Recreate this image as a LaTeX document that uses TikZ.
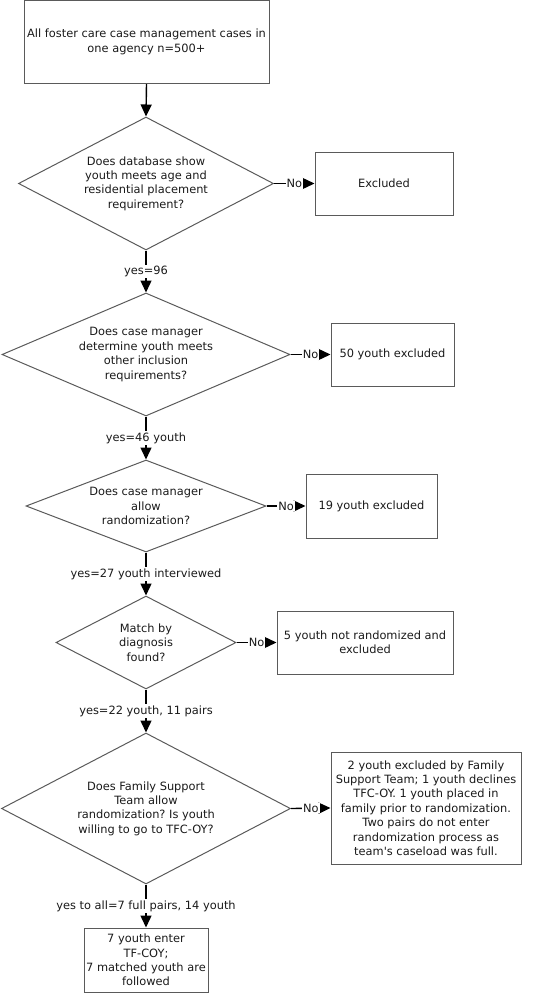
\documentclass[tikz,border=0pt]{standalone}
\usepackage{fontspec}
\setmainfont{DejaVu Sans}
\usetikzlibrary{shapes.geometric,arrows.meta}
\definecolor{edge}{HTML}{5A5A5A}
\definecolor{txt}{HTML}{1A1A1A}
\tikzset{
  every node/.style={font=\fontsize{11.4}{14.4}\selectfont\frenchspacing, text=txt},
  box/.style={draw=edge, line width=1pt, rectangle, inner sep=0pt, align=center},
  dec/.style={draw=edge, line width=1pt, diamond, inner sep=0pt, align=center},
  conn/.style={draw=black, line width=1.4pt, -{Triangle[length=12pt,width=11pt]}},
  lbl/.style={fill=white, inner sep=1pt}
}
\begin{document}
\begin{tikzpicture}[x=1pt,y=-1pt]
\useasboundingbox (0,0) rectangle (548,993);
\node[box, minimum width=245pt, minimum height=83pt] (start) at (146.5,42) {All foster care case management cases in\\one agency n=500+};
\node[dec, minimum width=255pt, minimum height=133pt, aspect=1.92] (d1) at (146,183.5) {Does database show\\youth meets age and\\residential placement\\requirement?};
\node[box, minimum width=138pt, minimum height=63pt] (e1) at (384,183.5) {Excluded};
\node[dec, minimum width=288pt, minimum height=123pt, aspect=2.34] (d2) at (146,354.5) {Does case manager\\determine youth meets\\other inclusion\\requirements?};
\node[box, minimum width=123pt, minimum height=63pt] (e2) at (392.5,354.5) {50 youth excluded};
\node[dec, minimum width=240pt, minimum height=92pt, aspect=2.6] (d3) at (146,506) {Does case manager\\allow\\randomization?};
\node[box, minimum width=131pt, minimum height=64pt] (e3) at (371.5,506) {19 youth excluded};
\node[dec, minimum width=180pt, minimum height=93pt, aspect=1.94] (d4) at (146,642.5) {Match by\\diagnosis\\found?};
\node[box, minimum width=176pt, minimum height=63pt] (e4) at (365,642.5) {5 youth not randomized and\\excluded};
\node[dec, minimum width=289pt, minimum height=151pt, aspect=1.91] (d5) at (146,808.5) {Does Family Support\\Team allow\\randomization? Is youth\\willing to go to TFC-OY?};
\node[box, minimum width=190pt, minimum height=112pt] (e5) at (426,808) {2 youth excluded by Family\\Support Team; 1 youth declines\\TFC-OY. 1 youth placed in\\family prior to randomization.\\Two pairs do not enter\\randomization process as\\team\textquotesingle s caseload was full.};
\node[box, minimum width=124pt, minimum height=64pt] (fin) at (146,960) {7 youth enter\\TF-COY;\\7 matched youth are\\followed};
\draw[conn] (start.south) -- (d1.north);
\draw[conn] (d1.south) -- node[lbl]{yes=96} (d2.north);
\draw[conn] (d2.south) -- node[lbl]{yes=46 youth} (d3.north);
\draw[conn] (d3.south) -- node[lbl]{yes=27 youth interviewed} (d4.north);
\draw[conn] (d4.south) -- node[lbl]{yes=22 youth, 11 pairs} (d5.north);
\draw[conn] (d5.south) -- node[lbl]{yes to all=7 full pairs, 14 youth} (fin.north);
\draw[conn] (d1.east) -- node[lbl]{No} (e1.west);
\draw[conn] (d2.east) -- node[lbl]{No} (e2.west);
\draw[conn] (d3.east) -- node[lbl]{No} (e3.west);
\draw[conn] (d4.east) -- node[lbl]{No} (e4.west);
\draw[conn] (d5.east) -- node[lbl]{No} (e5.west);
\end{tikzpicture}
\end{document}
